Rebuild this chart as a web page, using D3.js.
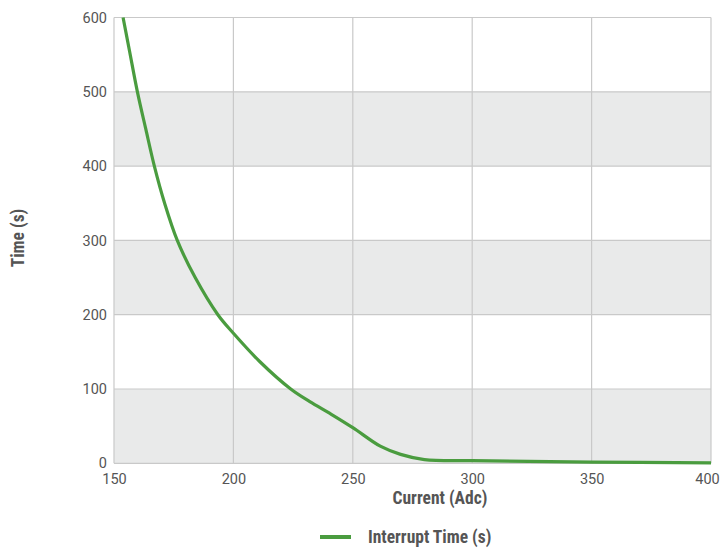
<!DOCTYPE html>
<html><head><meta charset="utf-8">
<script src="https://cdn.jsdelivr.net/npm/d3@7"></script>
<style>
body{margin:0;background:#fff;}
text{font-family:Roboto,"Liberation Sans",sans-serif;}
.title{font-family:"Liberation Sans Narrow","Roboto Condensed",Roboto,sans-serif;font-weight:bold;font-size:17.5px;fill:#555;}
</style></head>
<body>
<svg id="c" width="722" height="549"></svg>
<script>
const currentAdc = [153.8,156.5,159.8,163.3,166.9,171.2,176.5,184,193.5,200,211,224,232,241,250,261.5,270,280,300,350,400];
const timeS      = [600,555,500,450,400,350,300,250,200,175,137,100,83,66,48,23,12,5,3.5,1.7,0.5];
const xTicks = [150,200,250,300,350,400];
const yTicks = [0,100,200,300,400,500,600];
const seriesName = "Interrupt Time (s)";
const xTitle = "Current (Adc)";
const yTitle = "Time (s)";

const svg = d3.select("#c");
const L=114,R=711,T=17.5,B=463.3;
const x = d3.scaleLinear().domain([150,400]).range([L,R]);
const y = d3.scaleLinear().domain([0,600]).range([B,T]);

const bands = [[0,100],[200,300],[400,500]];
svg.selectAll("rect.band").data(bands).enter().append("rect")
  .attr("x",L).attr("width",R-L)
  .attr("y",d=>y(d[1])).attr("height",d=>y(d[0])-y(d[1]))
  .attr("fill","#e9eaea");

svg.append("g").selectAll("line").data(yTicks).enter().append("line")
  .attr("x1",L).attr("x2",R).attr("y1",d=>y(d)).attr("y2",d=>y(d))
  .attr("stroke","#c9c9c9").attr("stroke-width",1.2);
svg.append("g").selectAll("line").data(xTicks).enter().append("line")
  .attr("y1",T).attr("y2",B).attr("x1",d=>x(d)).attr("x2",d=>x(d))
  .attr("stroke","#c9c9c9").attr("stroke-width",1.2);

const ax = svg.append("g").attr("transform",`translate(0,${B})`)
  .call(d3.axisBottom(x).tickValues(xTicks).tickSize(0).tickPadding(10));
ax.select(".domain").remove();
ax.selectAll("text").attr("font-size","14.5px").attr("fill","#555").attr("font-family","Roboto,sans-serif")
  .attr("dx",(d,i)=> i===xTicks.length-1 ? -4 : 0);
const ay = svg.append("g").attr("transform",`translate(${L},0)`)
  .call(d3.axisLeft(y).tickValues(yTicks).tickSize(0).tickPadding(7));
ay.select(".domain").remove();
ay.selectAll("text").attr("font-size","14.5px").attr("fill","#555").attr("font-family","Roboto,sans-serif");

const line = d3.line().x((d,i)=>x(currentAdc[i])).y(d=>y(d)).curve(d3.curveCatmullRom.alpha(0.5));
svg.append("path").datum(timeS).attr("d",line)
  .attr("fill","none").attr("stroke","#4a9c3f").attr("stroke-width",3.2);

svg.append("text").attr("class","title").attr("x",440).attr("y",504)
  .attr("text-anchor","middle").text(xTitle);
svg.append("text").attr("class","title").attr("transform","translate(24,238) rotate(-90)")
  .attr("text-anchor","middle").text(yTitle);

svg.append("line").attr("x1",320).attr("x2",351).attr("y1",537).attr("y2",537)
  .attr("stroke","#4a9c3f").attr("stroke-width",4);
svg.append("text").attr("class","title").attr("x",368).attr("y",543).text(seriesName);
</script>
</body></html>
